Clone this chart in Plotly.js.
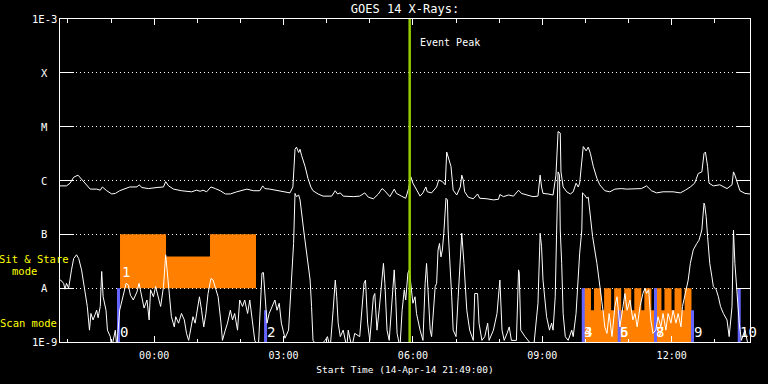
<!DOCTYPE html>
<html><head><meta charset="utf-8">
<script src="https://cdn.plot.ly/plotly-3.0.1.min.js"></script>
<style>html,body{margin:0;padding:0;background:#000;} #chart{width:768px;height:384px;}</style>
</head><body><div id="chart"></div>
<script>
// Start time of the plot: 14-Apr-14 21:49:00; times below are minutes after it.
const START = '2014-04-14T21:49:00Z';

// GOES 14 long channel (1-8 A), log10 of flux in W/m^2
const longT = [0,
 1,9,14,19,25,30,37,42,51,56,
 59,65,72,77,83,90,97,107,110,114,
 123,135,144,147,151,158,169,183,190,195,
 199,204,210,216,223,230,237,246,260,269,
 278,282,285,292,301,308,320,324,327,329,
 332,334,336,341,345,349,352,359,366,378,
 383,386,390,394,408,417,424,429,436,443,
 448,451,455,459,465,468,475,481,485,488,
 491,494,501,505,509,511,517,524,527,532,
 536,538,540,544,547,552,557,559,561,563,
 568,575,581,584,594,603,610,612,617,624,
 631,638,642,649,658,665,668,670,672,679,
 686,690,693,696,697,700,705,710,714,718,
 721,723,728,732,735,738,742,747,751,758,
 765,772,781,788,798,809,816,823,830,839,
 853,863,870,877,883,888,893,896,898,901,
 903,909,918,928,935,937,939,942,946,953,960];
const longLog = [-6.10,
 -6.10,-6.10,-6.05,-5.94,-5.90,-5.98,-6.08,-6.16,-6.16,-6.18,
 -6.12,-6.19,-6.25,-6.24,-6.19,-6.15,-6.12,-6.12,-6.08,-6.13,
 -6.15,-6.13,-6.12,-6.02,-6.10,-6.16,-6.19,-6.21,-6.18,-6.20,
 -6.18,-6.21,-6.12,-6.15,-6.19,-6.25,-6.25,-6.21,-6.16,-6.19,
 -6.19,-6.10,-6.15,-6.16,-6.18,-6.20,-6.23,-6.12,-5.42,-5.38,
 -5.48,-5.42,-5.53,-5.74,-5.96,-6.12,-6.19,-6.25,-6.29,-6.29,
 -6.19,-6.25,-6.23,-6.29,-6.30,-6.29,-6.23,-6.31,-6.34,-6.25,
 -6.15,-6.18,-6.24,-6.30,-6.16,-6.24,-6.29,-6.33,-6.15,-5.93,
 -6.05,-6.13,-6.29,-6.23,-6.12,-6.21,-6.23,-6.12,-5.99,-6.02,
 -6.08,-5.47,-5.55,-5.74,-6.18,-6.27,-6.12,-5.90,-5.99,-6.21,
 -6.31,-6.34,-6.25,-6.33,-6.34,-6.36,-6.35,-6.26,-6.30,-6.27,
 -6.29,-6.18,-6.24,-6.27,-6.30,-6.29,-5.90,-6.12,-6.24,-6.25,
 -6.27,-5.90,-5.09,-5.12,-5.84,-6.12,-6.21,-6.25,-6.21,-6.05,
 -6.12,-6.05,-5.37,-5.45,-5.38,-5.50,-5.74,-5.96,-6.08,-6.19,
 -6.21,-6.16,-6.15,-6.16,-6.16,-6.15,-6.10,-6.19,-6.23,-6.21,
 -6.21,-6.23,-6.18,-6.12,-6.05,-5.87,-5.84,-5.50,-5.47,-5.74,
 -6.05,-6.10,-6.08,-6.15,-6.08,-5.84,-5.90,-6.02,-6.19,-6.24,-6.25];

// GOES 14 short channel (0.5-4 A), log10 of flux in W/m^2
const shortT = [0,
 1,5,7,9,12,16,19,23,26,30,
 32,36,38,41,43,46,49,51,53,56,
 58,60,64,66,70,72,77,79,83,86,
 89,92,95,98,102,107,110,114,117,121,
 124,126,130,133,137,140,144,146,147,149,
 152,155,159,161,165,169,173,176,179,182,
 185,188,191,194,197,200,203,206,210,213,
 217,220,224,226,230,233,237,240,243,247,
 250,254,257,261,264,268,271,276,279,281,
 283,285,288,291,295,299,302,305,308,313,
 318,320,322,325,327,329,332,334,339,343,
 348,350,352,359,369,372,376,380,383,385,
 387,390,394,399,401,406,410,417,423,425,
 428,431,436,438,441,444,448,450,452,455,
 458,461,465,467,469,473,476,479,481,484,
 486,488,491,494,496,501,505,508,510,512,
 515,517,520,522,524,526,528,530,532,534,
 537,539,540,543,545,547,551,554,557,559,
 562,566,570,575,577,581,583,587,591,595,
 597,603,608,612,615,618,622,625,628,635,
 638,639,641,647,659,665,668,670,672,675,
 677,681,684,686,689,691,693,695,696,698,
 700,703,707,712,714,718,721,723,726,727,
 730,733,735,738,741,747,751,756,758,761,
 764,768,772,775,779,783,786,789,793,797,
 800,803,807,811,814,816,819,822,825,829,
 832,836,839,843,846,850,853,857,860,864,
 866,870,872,874,877,881,886,889,893,896,
 897,899,901,904,907,909,913,916,919,923,
 928,931,935,937,939,942,945,948,953,958,960];
const shortLog = [-7.85,
 -7.85,-7.91,-8.02,-7.91,-8.00,-7.66,-7.45,-7.38,-7.45,-7.66,
 -7.85,-8.16,-8.34,-8.78,-8.47,-8.59,-8.50,-8.41,-8.55,-8.34,
 -7.69,-8.16,-8.41,-8.78,-8.90,-9.1,-8.78,-9.1,-8.41,-8.25,
 -8.10,-7.91,-7.94,-8.13,-8.22,-8.07,-7.91,-8.16,-8.37,-8.22,
 -8.59,-8.03,-8.16,-7.97,-8.19,-8.34,-7.97,-7.48,-7.38,-7.66,
 -8.16,-8.53,-8.72,-8.53,-8.65,-8.47,-8.59,-8.84,-8.97,-8.78,
 -8.53,-8.65,-8.41,-8.16,-8.41,-8.72,-8.47,-8.10,-7.82,-7.85,
 -8.03,-8.16,-8.65,-8.97,-8.78,-8.65,-8.41,-8.59,-8.47,-8.78,
 -8.22,-8.34,-8.22,-8.47,-8.22,-8.65,-8.97,-9.1,-8.16,-7.72,
 -7.71,-8.16,-8.65,-8.47,-8.34,-8.22,-8.41,-8.28,-8.65,-8.93,
 -8.78,-8.28,-7.66,-7.17,-6.24,-6.30,-6.27,-6.36,-6.92,-7.29,
 -7.85,-8.34,-8.97,-9.1,-8.97,-8.90,-9.1,-8.41,-7.85,-8.16,
 -8.65,-8.90,-8.78,-9.1,-8.78,-9.1,-8.84,-8.90,-7.91,-7.85,
 -8.65,-8.97,-8.16,-8.10,-8.78,-8.41,-7.79,-7.54,-7.91,-8.78,
 -8.97,-8.47,-7.66,-8.16,-8.84,-9.1,-8.41,-8.03,-8.22,-7.72,
 -7.66,-7.91,-8.28,-8.16,-8.47,-8.78,-8.97,-7.91,-7.54,-8.03,
 -8.78,-8.90,-8.28,-7.97,-7.91,-7.29,-7.17,-7.42,-7.29,-6.98,
 -6.33,-6.36,-6.92,-7.54,-8.16,-8.78,-8.90,-8.16,-7.29,-6.98,
 -7.54,-8.41,-8.78,-8.97,-8.10,-8.10,-8.65,-8.97,-8.90,-8.65,
 -8.97,-8.78,-8.47,-7.85,-8.78,-8.97,-8.84,-8.72,-8.97,-8.97,
 -7.66,-7.72,-8.78,-8.90,-9.1,-8.28,-6.98,-7.23,-7.85,-8.28,
 -8.53,-8.78,-8.65,-8.78,-8.16,-6.92,-5.84,-5.90,-6.92,-7.54,
 -8.47,-8.90,-8.97,-8.78,-8.90,-8.47,-7.66,-7.35,-6.92,-6.23,
 -6.27,-6.33,-6.31,-6.67,-7.04,-7.54,-7.91,-8.47,-8.72,-8.84,
 -8.47,-8.90,-8.34,-8.16,-8.72,-8.34,-8.10,-8.41,-8.22,-8.59,
 -8.47,-8.72,-8.34,-8.10,-8.00,-8.10,-8.03,-8.59,-8.84,-8.78,
 -8.53,-8.72,-8.47,-8.78,-8.47,-8.65,-8.41,-8.65,-8.47,-8.72,
 -8.34,-8.10,-7.97,-7.85,-7.54,-7.29,-7.17,-7.11,-6.92,-6.42,
 -6.46,-6.67,-7.04,-7.54,-7.79,-7.97,-8.03,-8.16,-8.34,-8.47,
 -8.59,-8.90,-8.34,-6.92,-7.54,-8.16,-8.65,-8.97,-8.78,-9.1,-9.1];

// Y axis: GOES classes
const yTickVals = [-9, -8, -7, -6, -5, -4, -3];
const yTickText = ['1E-9', 'A', 'B', 'C', 'M', 'X', '1E-3'];

// Sit & Stare raster (minutes, log10 levels)
const ssStart = [83.5, 147.5, 208.7];
const ssEnd   = [147.5, 208.7, 272.7];
const ssTop   = [-7, -7.41, -7];
const ssBase  = -8;
const ssLabel = '1';

// Scan rasters block and its exposures
const scanStart = 729, scanEnd = 878.6, scanMid = -8.41, scanTop = -8, scanBase = -9.1;
const toothStart = [729, 743, 757, 771, 785, 799, 813, 827, 841, 855, 869];
const toothEnd   = [738.8, 752.8, 766.8, 780.8, 794.8, 808.8, 822.8, 836.8, 850.8, 864.8, 878.6];

// Scan raster start markers
const barT     = [81.4, 286, 728, 778, 828.5, 880, 945];
const barTop   = [-8, -8.41, -8, -8.41, -8, -8.41, -8];
const barLabel = ['0', '2', '4', '5', '8', '9', '10'];
const barLabel2 = ['', '', '3', '6', '7', '', ''];

const eventPeakT = 486.5;

const t0 = Date.parse(START);
function toDate(m) { return new Date(t0 + m * 60000).toISOString().slice(0, 19).replace('T', ' '); }
const p10 = v => (v === null ? null : Math.pow(10, v));

const MONO = 'DejaVu Sans Mono';
const ORANGE = '#ff8000';
const BLUE = 'rgb(100,100,255)';

// sit & stare polygons
const ssX = [], ssY = [];
for (let i = 0; i < ssStart.length; i++) {
  ssX.push(ssStart[i], ssStart[i], ssEnd[i], ssEnd[i], ssStart[i], null);
  ssY.push(ssBase, ssTop[i], ssTop[i], ssBase, ssBase, null);
}
// scan polygons
const scX = [scanStart, scanStart, scanEnd, scanEnd, scanStart, null];
const scY = [scanBase, scanMid, scanMid, scanBase, scanBase, null];
for (let i = 0; i < toothStart.length; i++) {
  scX.push(toothStart[i], toothStart[i], toothEnd[i], toothEnd[i], toothStart[i], null);
  scY.push(scanMid - 0.01, scanTop, scanTop, scanMid - 0.01, scanMid - 0.01, null);
}
const bX = [], bY = [];
for (let i = 0; i < barT.length; i++) {
  bX.push(barT[i], barT[i], null);
  bY.push(-9.1, barTop[i], null);
}
const dt = a => a.map(m => (m === null ? null : toDate(m)));

const traces = [
  {x: dt(ssX), y: ssY.map(p10), mode: 'lines', fill: 'toself', fillcolor: ORANGE, line: {width: 0, color: ORANGE}, hoverinfo: 'skip'},
  {x: dt(scX), y: scY.map(p10), mode: 'lines', fill: 'toself', fillcolor: ORANGE, line: {width: 0, color: ORANGE}, hoverinfo: 'skip'},
  {x: dt(bX), y: bY.map(p10), mode: 'lines', line: {width: 3, color: BLUE}, hoverinfo: 'skip'},
  {x: dt(shortT), y: shortLog.map(p10), mode: 'lines', line: {width: 1, color: '#fff'}, name: '0.5-4 A'},
  {x: dt(longT), y: longLog.map(p10), mode: 'lines', line: {width: 1, color: '#fff'}, name: '1-8 A'},
  {x: [toDate(eventPeakT), toDate(eventPeakT)], y: [1e-9, 1e-3], mode: 'lines', line: {width: 2.5, color: 'rgb(150,205,0)'}, name: 'Event Peak'}
];

const annotations = [];
for (let i = 0; i < yTickVals.length; i++) {
  annotations.push({xref: 'paper', x: -0.0225, xanchor: 'center', yref: 'y', y: yTickVals[i], yanchor: 'middle',
    text: yTickText[i], showarrow: false, font: {family: MONO, size: 10.5, color: '#fff'}});
}
annotations.push({xref: 'paper', x: -0.037, xanchor: 'center', yref: 'y', y: -7.46, yanchor: 'middle', text: 'Sit &amp; Stare', showarrow: false, font: {family: MONO, size: 10.5, color: '#ffff00'}});
annotations.push({xref: 'paper', x: -0.052, xanchor: 'center', yref: 'y', y: -7.69, yanchor: 'middle', text: 'mode', showarrow: false, font: {family: MONO, size: 10.5, color: '#ffff00'}});
annotations.push({xref: 'paper', x: -0.045, xanchor: 'center', yref: 'y', y: -8.65, yanchor: 'middle', text: 'Scan mode', showarrow: false, font: {family: MONO, size: 10.5, color: '#ffff00'}});
annotations.push({xref: 'x', x: toDate(eventPeakT), xanchor: 'left', xshift: 8, yref: 'paper', y: 0.926, yanchor: 'middle', text: 'Event Peak', showarrow: false, font: {family: MONO, size: 10, color: '#fff'}});
annotations.push({xref: 'x', x: toDate(ssStart[0]), xanchor: 'left', xshift: 0, yref: 'y', y: -7.70, yanchor: 'middle', text: ssLabel, showarrow: false, font: {family: MONO, size: 14, color: '#fff'}});
for (let i = 0; i < barT.length; i++) {
  annotations.push({xref: 'x', x: toDate(barT[i]), xanchor: 'left', xshift: -1, yref: 'y', y: -8.81, yanchor: 'middle', text: barLabel[i], showarrow: false, font: {family: MONO, size: 14, color: '#fff'}});
  if (barLabel2[i]) annotations.push({xref: 'x', x: toDate(barT[i]), xanchor: 'left', xshift: -1, yref: 'y', y: -8.81, yanchor: 'middle', text: barLabel2[i], showarrow: false, font: {family: MONO, size: 14, color: '#fff'}});
}

const layout = {
  width: 768, height: 384,
  margin: {l: 60, r: 18, t: 19, b: 42, pad: 0},
  paper_bgcolor: '#000', plot_bgcolor: '#000', showlegend: false,
  font: {family: MONO, color: '#fff', size: 10},
  title: {text: 'GOES 14 X-Rays:', font: {family: MONO, size: 12, color: '#fff'},
    xref: 'paper', x: 0.5, xanchor: 'center', yref: 'container', y: 1 - 9 / 384, yanchor: 'middle'},
  xaxis: {
    type: 'date', range: [toDate(0), toDate(960)], showgrid: false, zeroline: false,
    showline: true, linecolor: '#fff', linewidth: 1, mirror: 'allticks',
    ticks: 'inside', ticklen: 6, tickwidth: 1, tickcolor: '#fff',
    tick0: '2014-04-15 00:00:00', dtick: 3 * 3600000, tickformat: '%H:%M',
    tickfont: {family: MONO, size: 10, color: '#fff'}, ticklabelstandoff: 4,
    minor: {ticks: 'inside', ticklen: 3.5, tickwidth: 1, tickcolor: '#fff', dtick: 3600000, tick0: '2014-04-15 00:00:00', showgrid: false},
    title: {text: 'Start Time (14-Apr-14 21:49:00)', font: {family: MONO, size: 9.5, color: '#fff'}, standoff: 6}
  },
  yaxis: {
    type: 'log', range: [-9, -3], tickvals: yTickVals.map(p10), showticklabels: false,
    ticks: 'inside', ticklen: 14, tickwidth: 1, tickcolor: '#fff',
    showline: true, linecolor: '#fff', linewidth: 1, mirror: 'allticks',
    showgrid: true, gridcolor: '#fff', gridwidth: 1, griddash: '1px,3px', zeroline: false
  },
  annotations: annotations
};

Plotly.newPlot('chart', traces, layout, {staticPlot: true, displayModeBar: false});
</script>
</body></html>
